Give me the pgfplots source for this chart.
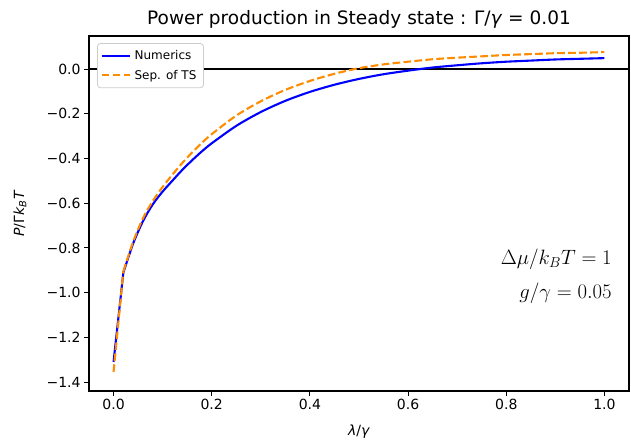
\documentclass[border=0pt]{standalone}
\usepackage{pgfplots}
\pgfplotsset{compat=1.18}
\usepackage{fontspec}
\setmainfont{DejaVu Sans}
\definecolor{mplorange}{RGB}{255,140,0}
\definecolor{legframe}{RGB}{204,204,204}
\begin{document}
\begin{tikzpicture}
\useasboundingbox (-89pt,-51pt) rectangle (542pt,391pt);
\begin{axis}[
  scale only axis,
  width=540pt, height=355pt,
  xmin=-0.05, xmax=1.05, ymin=-1.44, ymax=0.148,
  xtick={0,0.2,0.4,0.6,0.8,1.0},
  xticklabels={0.0,0.2,0.4,0.6,0.8,1.0},
  ytick={-1.4,-1.2,-1.0,-0.8,-0.6,-0.4,-0.2,0},
  yticklabels={−1.4,−1.2,−1.0,−0.8,−0.6,−0.4,−0.2,0.0},
  tick align=outside, tick pos=left,
  major tick length=4.9pt,
  every tick/.style={black, line width=1.1pt},
  axis line style={line width=1.1pt, black},
  tick label style={font=\fontsize{14}{16}\selectfont},
  /pgf/number format/assume math mode=true,
  title={Power production in Steady state : Γ/\textit{γ} = 0.01},
  title style={font=\fontsize{18.5}{21}\selectfont, yshift=-2pt},
  xlabel={\textit{λ}/\textit{γ}},
  ylabel={\textit{P}/Γ\textit{k}\textsubscript{\textit{B}}\textit{T}},
  label style={font=\fontsize{14}{16}\selectfont},
  xlabel style={at={(axis description cs:0.5,-0.115)}, anchor=center},
  ylabel style={at={(axis description cs:-0.128,0.5)}, anchor=center},
  legend style={at={(0.015,0.98)}, anchor=north west, font=\fontsize{12}{14}\selectfont,
    draw=legframe, line width=0.8pt, rounded corners=3pt, fill=white,
    inner xsep=3pt, inner ysep=5pt, row sep=5pt, nodes={inner xsep=4pt}},
  legend cell align=left,
  legend image code/.code={\draw[#1] (0pt,0pt) -- (28pt,0pt);},
]
\addplot[black, line width=1.4pt, forget plot] coordinates {(-0.05,0) (1.05,0)};
\addplot[blue, line width=2.1pt, forget plot] coordinates {(0.00,-1.31) (0.02,-0.91)};
\addplot[blue, line width=2.1pt, smooth, tension=0.5] coordinates {
(0.02,-0.91) (0.04,-0.78) (0.06,-0.68) (0.08,-0.605) (0.10,-0.548)
(0.12,-0.499) (0.14,-0.451) (0.16,-0.408) (0.18,-0.368) (0.20,-0.332)
(0.25,-0.254) (0.30,-0.192) (0.35,-0.142) (0.40,-0.102) (0.45,-0.070)
(0.50,-0.044) (0.55,-0.023) (0.60,-0.007) (0.65,0.007) (0.70,0.017)
(0.75,0.026) (0.80,0.033) (0.85,0.038) (0.90,0.043) (0.95,0.046) (1.00,0.049)
};
\addlegendentry{Numerics}
\addplot[mplorange, line width=2.1pt, dash pattern=on 7.7pt off 3.3pt, forget plot] coordinates {(0.00,-1.355) (0.02,-0.905)};
\addplot[mplorange, line width=2.1pt, dash pattern=on 7.7pt off 3.3pt, smooth, tension=0.5] coordinates {
(0.02,-0.905) (0.04,-0.772) (0.06,-0.667) (0.08,-0.590) (0.10,-0.527)
(0.12,-0.472) (0.14,-0.420) (0.16,-0.373) (0.18,-0.330) (0.20,-0.291)
(0.25,-0.208) (0.30,-0.144) (0.35,-0.093) (0.40,-0.053) (0.45,-0.021)
(0.50,0.004) (0.55,0.021) (0.60,0.033) (0.65,0.044) (0.70,0.051)
(0.75,0.057) (0.80,0.063) (0.85,0.067) (0.90,0.071) (0.95,0.073) (1.00,0.076)
};
\addlegendentry{Sep. of TS}
\node[anchor=east, align=right, font=\fontsize{22}{34}\selectfont] at (axis cs:1.022,-0.925)
  {$\Delta\mu/k_BT = 1$\\$g/\gamma = 0.05$};
\end{axis}
\end{tikzpicture}
\end{document}
